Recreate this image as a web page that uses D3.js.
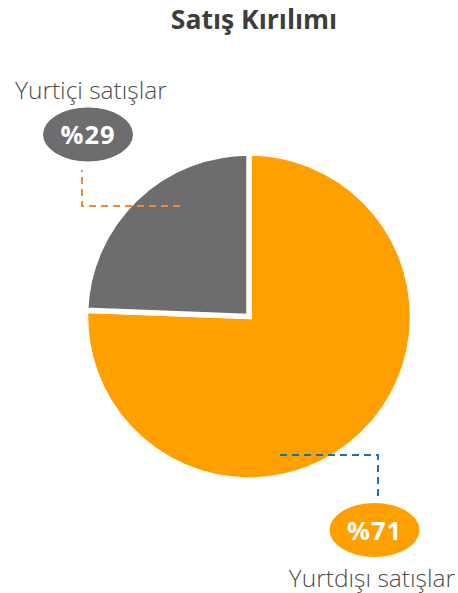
<!DOCTYPE html>
<html>
<head>
<meta charset="utf-8">
<script src="https://cdn.jsdelivr.net/npm/d3@7"></script>
<style>
  body { margin: 0; background: #fff; }
  svg { display: block; }
</style>
</head>
<body>
<svg id="chart" width="458" height="593"></svg>
<script>
// chart data
const chartTitle = "Satış Kırılımı";
const categories = ["Yurtdışı satışlar", "Yurtiçi satışlar"];
const percentLabels = ["%71", "%29"];
// slice sizes as they are drawn in the picture
const sliceShares = [75.6, 24.4];
const sliceColors = ["#FFA000", "#6D6D6F"];
const leaderColors = ["#1F6DB0", "#F08C2E"];

const svg = d3.select("#chart");
const cx = 249, cy = 316.5, r = 163.5;

// title
svg.append("text")
    .attr("x", 254)
    .attr("y", 29)
    .attr("text-anchor", "middle")
    .attr("font-family", "Open Sans")
    .attr("font-weight", 700)
    .attr("font-size", 26.5)
    .attr("fill", "#3d3d3d")
    .text(chartTitle);

// pie
const pie = d3.pie().sort(null).value(d => d)(sliceShares);
const arc = d3.arc().innerRadius(0).outerRadius(r);

svg.append("g")
    .attr("transform", `translate(${cx},${cy})`)
    .selectAll("path")
    .data(pie)
    .join("path")
    .attr("d", arc)
    .attr("fill", (d, i) => sliceColors[i])
    .attr("stroke", "#fff")
    .attr("stroke-width", 5.5)
    .attr("stroke-linejoin", "miter");

// leader lines (dashed elbows)
const leaders = [
    [[280, 455], [378, 455], [378, 500]],
    [[180, 206], [82, 206], [82, 170]]
];
svg.selectAll("path.leader")
    .data(leaders)
    .join("path")
    .attr("class", "leader")
    .attr("d", d3.line())
    .attr("fill", "none")
    .attr("stroke", (d, i) => leaderColors[i])
    .attr("stroke-width", 2)
    .attr("stroke-dasharray", "7,5");

// percentage bubbles
const bubbles = [
    { cx: 374.5, cy: 530, ty: 539.5 },
    { cx: 88, cy: 134.5, ty: 143.5 }
];
const bg = svg.selectAll("g.bubble")
    .data(bubbles)
    .join("g")
    .attr("class", "bubble");

bg.append("ellipse")
    .attr("cx", d => d.cx)
    .attr("cy", d => d.cy)
    .attr("rx", 45)
    .attr("ry", 27)
    .attr("fill", (d, i) => sliceColors[i]);

bg.append("text")
    .attr("x", d => d.cx)
    .attr("y", d => d.ty)
    .attr("text-anchor", "middle")
    .attr("font-family", "Open Sans")
    .attr("font-weight", 700)
    .attr("font-size", 25.5)
    .attr("letter-spacing", 1)
    .attr("fill", "#fff")
    .text((d, i) => percentLabels[i]);

// category names
const namePos = [
    { x: 455, y: 587, anchor: "end" },
    { x: 15, y: 99, anchor: "start" }
];
svg.selectAll("text.name")
    .data(namePos)
    .join("text")
    .attr("class", "name")
    .attr("x", d => d.x)
    .attr("y", d => d.y)
    .attr("text-anchor", d => d.anchor)
    .attr("font-family", "Open Sans")
    .attr("font-weight", 300)
    .attr("font-size", 24.5)
    .attr("fill", "#4d4d4d")
    .text((d, i) => categories[i]);
</script>
</body>
</html>
